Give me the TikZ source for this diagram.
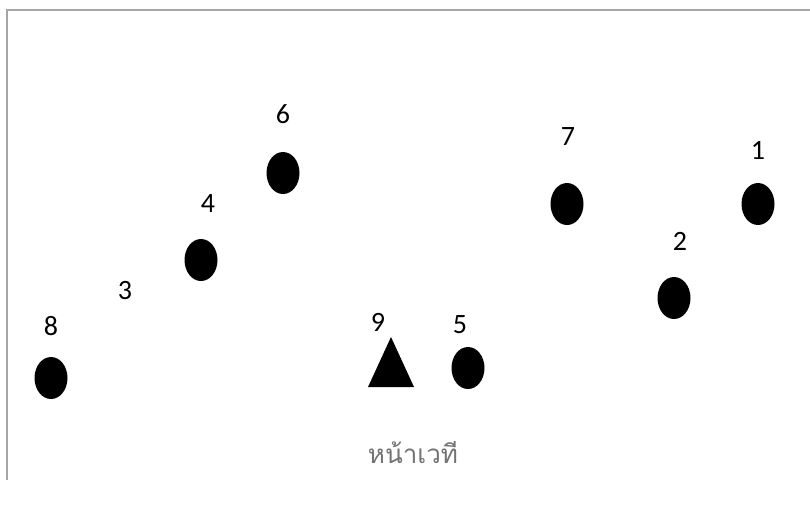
\documentclass[tikz,border=0pt]{standalone}
\usepackage{fontspec}
\setmainfont{Carlito}
\newfontfamily\thaifont[Script=Thai]{Loma}
\usetikzlibrary{shapes.geometric}
\begin{document}
\begin{tikzpicture}[x=1pt,y=-1pt,
  seat/.style={ellipse,fill=black,minimum width=33pt,minimum height=42pt,inner sep=0pt},
  num/.style={font=\fontsize{28}{28}\selectfont,inner sep=0pt}]
\useasboundingbox (0,0) rectangle (810,507);
\draw[gray!70,line width=2pt] (7,480) -- (7,10) -- (810,10);
\node[seat] (s1) at (758,204) {};
\node[num] (l1) at (758,150) {1};
\node[seat] (s2) at (674,298) {};
\node[num] (l2) at (680,241) {2};
\node[num] (l3) at (125,291) {3};
\node[seat] (s4) at (201,260) {};
\node[num] (l4) at (208,204) {4};
\node[seat] (s5) at (468,368) {};
\node[num] (l5) at (460,325) {5};
\node[seat] (s6) at (283,173) {};
\node[num] (l6) at (283,114) {6};
\node[seat] (s7) at (567,204) {};
\node[num] (l7) at (568,137) {7};
\node[seat] (s8) at (51,378) {};
\node[num] (l8) at (51,326) {8};
\node[num] (l9) at (378,322) {9};
\fill (391,337) -- (414,387) -- (368,387) -- cycle;
\node[font=\thaifont\fontsize{26}{26}\selectfont,text=black!55,inner sep=0pt] (stage) at (413,453) {หน้าเวที};
\end{tikzpicture}
\end{document}
